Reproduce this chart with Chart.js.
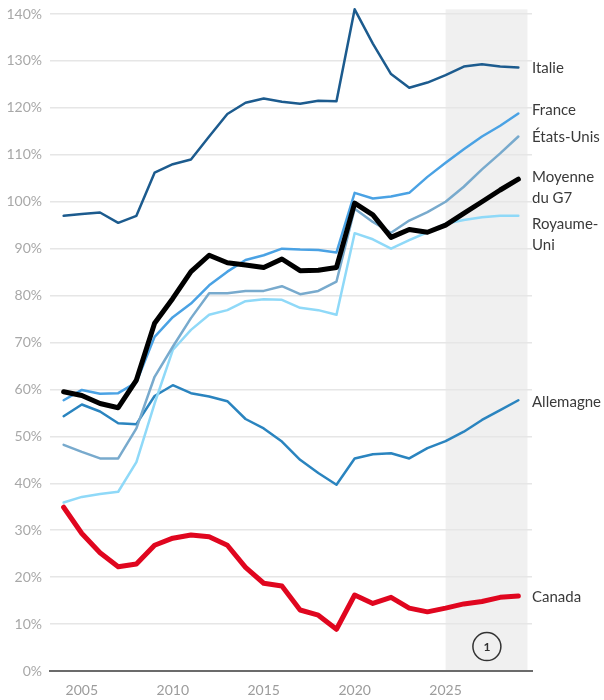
<!DOCTYPE html>
<html>
<head>
<meta charset="utf-8">
<script src="https://cdn.jsdelivr.net/npm/chart.js@4/dist/chart.umd.min.js"></script>
<style>
  body { margin: 0; background: #fff; }
  #wrap { width: 604px; height: 700px; }
</style>
</head>
<body>
<div id="wrap"><canvas id="lineChart" width="604" height="700"></canvas></div>
<script>
var years = [2004, 2005, 2006, 2007, 2008, 2009, 2010, 2011, 2012, 2013, 2014, 2015, 2016,
  2017, 2018, 2019, 2020, 2021, 2022, 2023, 2024, 2025, 2026, 2027, 2028, 2029];

var italie = [97.0, 97.4, 97.7, 95.5, 97.0, 106.2, 108.0, 109.0, 113.9, 118.7, 121.1, 122.0, 121.3,
  120.9, 121.5, 121.4, 141.0, 133.7, 127.2, 124.3, 125.4, 127.0, 128.8, 129.3, 128.8, 128.6];
var france = [57.7, 59.9, 59.1, 59.2, 61.5, 71.2, 75.4, 78.3, 82.2, 85.1, 87.6, 88.6, 90.0,
  89.8, 89.7, 89.2, 101.9, 100.7, 101.1, 101.9, 105.3, 108.3, 111.2, 113.9, 116.2, 118.8];
var etatsUnis = [48.2, 46.7, 45.3, 45.3, 51.7, 62.7, 69.1, 75.2, 80.5, 80.5, 81.0, 81.0, 82.0,
  80.3, 81.0, 83.0, 98.5, 95.7, 93.4, 96.0, 97.8, 100.0, 103.2, 106.9, 110.3, 113.9];
var moyenneG7 = [59.5, 58.7, 57.0, 56.1, 62.0, 74.1, 79.4, 85.1, 88.6, 87.0, 86.5, 86.0, 87.8,
  85.3, 85.4, 86.0, 99.7, 97.2, 92.4, 94.1, 93.5, 95.0, 97.5, 100.0, 102.5, 104.8];
var royaumeUni = [35.9, 37.1, 37.7, 38.2, 44.5, 57.0, 68.4, 72.7, 75.9, 76.9, 78.8, 79.2, 79.1,
  77.4, 76.9, 75.9, 93.3, 92.0, 90.0, 91.8, 93.5, 95.3, 96.1, 96.7, 97.0, 97.0];
var allemagne = [54.3, 56.8, 55.3, 52.8, 52.6, 58.6, 60.9, 59.2, 58.5, 57.5, 53.7, 51.7, 48.9,
  45.0, 42.2, 39.7, 45.3, 46.2, 46.4, 45.3, 47.5, 49.0, 51.0, 53.5, 55.6, 57.7];
var canada = [34.9, 29.3, 25.2, 22.2, 22.8, 26.8, 28.3, 29.0, 28.6, 26.8, 22.1, 18.7, 18.1,
  13.0, 11.9, 8.9, 16.2, 14.4, 15.7, 13.4, 12.6, 13.4, 14.3, 14.8, 15.7, 16.0];

var yTicks = [0, 10, 20, 30, 40, 50, 60, 70, 80, 90, 100, 110, 120, 130, 140];
var xTicks = [2005, 2010, 2015, 2020, 2025];
var projectionStart = 2025;
var projectionEnd = 2029.5;

function pts(values) {
  return values.map(function(v, i) { return { x: years[i], y: v }; });
}

// nom affiché à droite + petit décalage vertical (px) pour éviter les chevauchements
var series = [
  { lines: ['Moyenne', 'du G7'], data: moyenneG7, color: '#000000', width: 5, order: 0, nudge: -2 },
  { lines: ['Canada'], data: canada, color: '#e0061f', width: 5, order: 1, nudge: 1 },
  { lines: ['Italie'], data: italie, color: '#1c5b8e', width: 2.5, order: 2, nudge: 1 },
  { lines: ['France'], data: france, color: '#4aa2e4', width: 2.5, order: 3, nudge: -3 },
  { lines: ['États-Unis'], data: etatsUnis, color: '#78aacd', width: 2.5, order: 4, nudge: 1 },
  { lines: ['Royaume-', 'Uni'], data: royaumeUni, color: '#8fd9f8', width: 2.5, order: 5, nudge: 8 },
  { lines: ['Allemagne'], data: allemagne, color: '#2a84bf', width: 2.5, order: 6, nudge: 2 }
];

var datasets = series.map(function(s) {
  return {
    label: s.lines.join(' '),
    data: pts(s.data),
    borderColor: s.color,
    backgroundColor: s.color,
    borderWidth: s.width,
    pointRadius: 0,
    tension: 0,
    borderJoinStyle: 'round',
    borderCapStyle: 'round',
    order: s.order
  };
});

var bandPlugin = {
  id: 'band',
  beforeDraw: function(chart) {
    var ctx = chart.ctx, xs = chart.scales.x, ys = chart.scales.y;
    var x0 = xs.getPixelForValue(projectionStart), x1 = xs.getPixelForValue(projectionEnd);
    var top = ys.getPixelForValue(141), bottom = ys.getPixelForValue(0);
    ctx.save();
    ctx.fillStyle = '#f0f0f0';
    ctx.fillRect(x0, top, x1 - x0, bottom - top);
    ctx.restore();
  }
};

var labelPlugin = {
  id: 'endLabels',
  afterDatasetsDraw: function(chart) {
    var ctx = chart.ctx, xs = chart.scales.x, ys = chart.scales.y;
    ctx.save();
    ctx.font = '15px Lato';
    ctx.fillStyle = '#3a3a3a';
    ctx.textAlign = 'left';
    ctx.textBaseline = 'middle';
    series.forEach(function(s) {
      var y = ys.getPixelForValue(s.data[s.data.length - 1]) + s.nudge;
      s.lines.forEach(function(line, i) {
        ctx.fillText(line, chart.chartArea.right, y + i * 21);
      });
    });
    // note (1) dans la zone de projection
    var cx = xs.getPixelForValue(2027.27), cy = ys.getPixelForValue(5.2);
    ctx.beginPath();
    ctx.arc(cx, cy, 14, 0, Math.PI * 2);
    ctx.strokeStyle = '#333';
    ctx.lineWidth = 1.5;
    ctx.stroke();
    ctx.font = 'bold 12px Lato';
    ctx.fillStyle = '#333';
    ctx.textAlign = 'center';
    ctx.fillText('1', cx, cy + 1);
    ctx.restore();
  }
};

var ctx = document.getElementById('lineChart');
var chart = new Chart(ctx, {
  type: 'line',
  data: { datasets: datasets },
  plugins: [bandPlugin, labelPlugin],
  options: {
    responsive: false,
    animation: false,
    layout: { padding: { top: 7, right: 72, left: 0, bottom: 0 } },
    plugins: { legend: { display: false }, tooltip: { enabled: false } },
    scales: {
      x: {
        type: 'linear',
        min: 2003.25,
        max: 2029.75,
        afterBuildTicks: function(scale) {
          scale.ticks = xTicks.map(function(v) { return { value: v }; });
        },
        afterFit: function(scale) {
          scale.height = 29;
          scale.paddingLeft = 0;
          scale.paddingRight = 0;
        },
        grid: { display: false, drawTicks: false },
        border: { display: true, color: '#6b6b6b', width: 2 },
        ticks: {
          padding: 11,
          color: '#9c9c9c',
          font: { family: 'Lato', size: 14 },
          maxRotation: 0,
          callback: function(v) { return String(v); }
        }
      },
      y: {
        min: 0,
        max: 141.5,
        afterBuildTicks: function(scale) {
          scale.ticks = yTicks.map(function(v) { return { value: v }; });
        },
        afterFit: function(scale) {
          scale.width = 50;
          scale.paddingTop = 0;
          scale.paddingBottom = 0;
        },
        grid: { color: '#e6e6e6', lineWidth: 1.5, drawTicks: false },
        border: { display: false },
        ticks: {
          padding: 8,
          color: '#a8a8a8',
          font: { family: 'Lato', size: 14 },
          callback: function(v) { return v + '%'; }
        }
      }
    }
  }
});
</script>
</body>
</html>
